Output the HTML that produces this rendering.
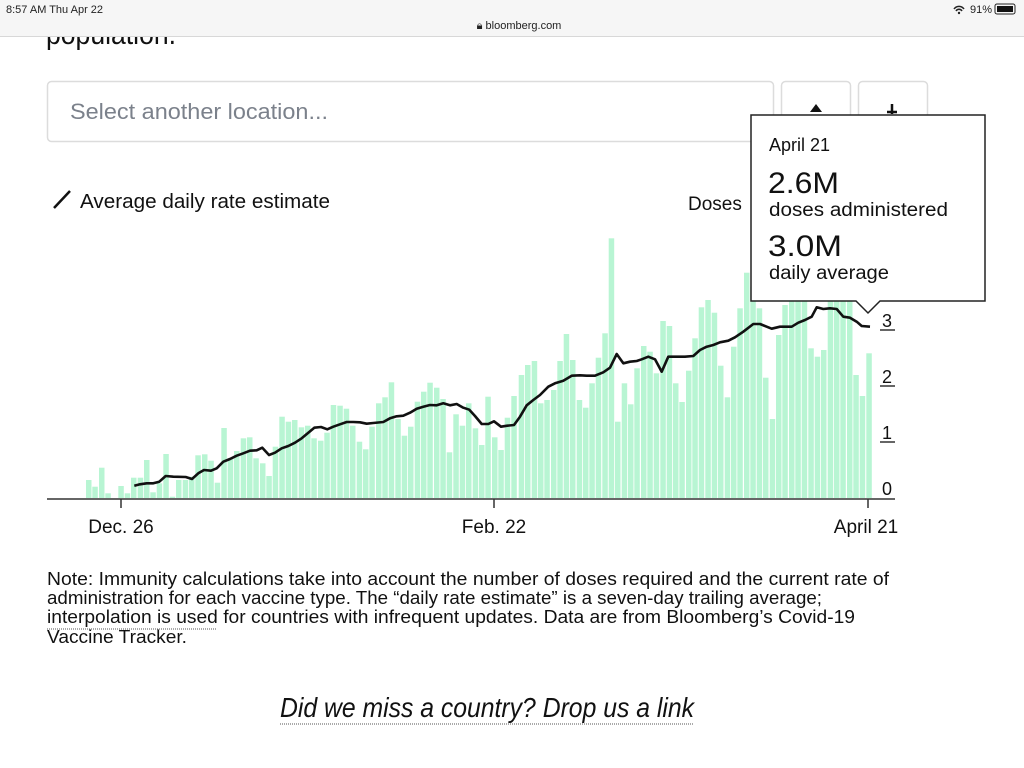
<!DOCTYPE html>
<html><head><meta charset="utf-8"><style>
html,body{margin:0;padding:0;background:#fff;width:1024px;height:768px;overflow:hidden}
svg{display:block}
text{font-family:"Liberation Sans",sans-serif}
</style></head><body>
<svg id="s" width="1024" height="768" viewBox="0 0 1024 768" xmlns="http://www.w3.org/2000/svg">
<text x="46" y="44" font-size="30" fill="#111" textLength="130" lengthAdjust="spacingAndGlyphs">population.</text>
<rect x="0" y="0" width="1024" height="36" fill="#f6f6f6"/>
<line x1="0" y1="36.5" x2="1024" y2="36.5" stroke="#d8d8d8"/>
<text x="6" y="13" font-size="11" fill="#222">8:57 AM   Thu Apr 22</text>
<text x="519" y="29" font-size="11" fill="#222" text-anchor="middle">🔒︎ bloomberg.com</text>
<text x="970" y="13" font-size="11" fill="#222">91%</text>
<rect x="995" y="4" width="20" height="10" rx="2" fill="none" stroke="#222"/>
<rect x="997" y="6" width="16" height="6" fill="#111"/>
<path d="M954 9 a6 6 0 0 1 10 0 M956 11 a3.5 3.5 0 0 1 6 0" stroke="#222" fill="none" stroke-width="1.5"/><circle cx="959" cy="13" r="1.2" fill="#222"/>

<rect x="47.5" y="81.5" width="726" height="60" rx="4" fill="#fff" stroke="#dcdcdc" stroke-width="1.5"/>
<text x="70" y="119" font-size="22" fill="#7b818b" textLength="258" lengthAdjust="spacingAndGlyphs">Select another location...</text>
<rect x="781.5" y="81.5" width="69" height="60" rx="4" fill="#fff" stroke="#dcdcdc" stroke-width="1.5"/>
<rect x="858.5" y="81.5" width="69" height="60" rx="4" fill="#fff" stroke="#dcdcdc" stroke-width="1.5"/>
<path d="M810 112 l6 -8 l6 8 z" fill="#111"/>
<path d="M892 104 v10 M887 112 h10" stroke="#111" stroke-width="2.5"/>

<line x1="54" y1="208" x2="70" y2="191" stroke="#111" stroke-width="2.5"/>
<text x="80" y="208" font-size="20" fill="#111" textLength="250" lengthAdjust="spacingAndGlyphs">Average daily rate estimate</text>
<text x="688" y="210" font-size="19" fill="#111">Doses</text>

<g id="bars" fill="#b8f5d3"></g>
<polyline id="ln" fill="none" stroke="#111" stroke-width="2.6" stroke-linejoin="round"/>

<line x1="47" y1="499" x2="895" y2="499" stroke="#333" stroke-width="1.5"/>
<line x1="121" y1="499" x2="121" y2="508" stroke="#333" stroke-width="1.5"/>
<line x1="494" y1="499" x2="494" y2="508" stroke="#333" stroke-width="1.5"/>
<line x1="868" y1="499" x2="868" y2="508" stroke="#333" stroke-width="1.5"/>
<text x="121" y="533" font-size="19" fill="#111" text-anchor="middle">Dec. 26</text>
<text x="494" y="533" font-size="19" fill="#111" text-anchor="middle">Feb. 22</text>
<text x="866" y="533" font-size="19" fill="#111" text-anchor="middle">April 21</text>
<g font-size="18" fill="#111" text-anchor="middle">
<text x="887" y="495">0</text>
<text x="887" y="439">1</text><line x1="880" y1="442" x2="895" y2="442" stroke="#333" stroke-width="1.5"/>
<text x="887" y="383">2</text><line x1="880" y1="386" x2="895" y2="386" stroke="#333" stroke-width="1.5"/>
<text x="887" y="327">3</text><line x1="880" y1="330" x2="895" y2="330" stroke="#333" stroke-width="1.5"/>
</g>

<path d="M751 115 H985 V301 H880 L868 313 L856 301 H751 Z" fill="#fff" stroke="#222" stroke-width="1.5"/>
<text x="769" y="151" font-size="18" fill="#111">April 21</text>
<text x="768" y="193" font-size="30" fill="#111" textLength="71" lengthAdjust="spacingAndGlyphs">2.6M</text>
<text x="769" y="216" font-size="19" fill="#111" textLength="179" lengthAdjust="spacingAndGlyphs">doses administered</text>
<text x="768" y="256" font-size="30" fill="#111" textLength="74" lengthAdjust="spacingAndGlyphs">3.0M</text>
<text x="769" y="279" font-size="19" fill="#111" textLength="120" lengthAdjust="spacingAndGlyphs">daily average</text>

<g font-size="18" fill="#111">
<text x="47" y="585" textLength="842" lengthAdjust="spacingAndGlyphs">Note: Immunity calculations take into account the number of doses required and the current rate of</text>
<text x="47" y="604" textLength="775" lengthAdjust="spacingAndGlyphs">administration for each vaccine type. The “daily rate estimate” is a seven-day trailing average;</text>
<text x="47" y="623" textLength="808" lengthAdjust="spacingAndGlyphs">interpolation is used for countries with infrequent updates. Data are from Bloomberg’s Covid-19</text>
<text x="47" y="643" textLength="140" lengthAdjust="spacingAndGlyphs">Vaccine Tracker.</text>
</g>
<line x1="47" y1="629" x2="216" y2="629" stroke="#555" stroke-dasharray="1 1"/>
<text x="280" y="717" font-size="28" font-style="italic" fill="#111" font-family="Liberation Serif, serif" textLength="414" lengthAdjust="spacingAndGlyphs">Did we miss a country? Drop us a link</text>
<line x1="280" y1="724" x2="694" y2="724" stroke="#555" stroke-dasharray="1 1"/>
</svg>
<script>
var b1=[[138,780],[157,800],[177,743],[196,820],[235,798],[254,820],[273,773],[293,773],[312,720],[331,817],[350,790],[370,702],[389,830],[408,780],[428,780],[447,770],[466,706],[486,703],[505,722],[524,788],[544,624],[563,715],[582,693],[602,655],[621,652],[640,715],[660,730],[679,768],[698,680],[718,590],[737,605],[756,600],[776,622],[795,617],[814,655],[834,662],[853,638],[872,555],[892,557],[911,566],[930,617],[950,665],[969,688],[988,620],[1008,550],[1027,532],[1046,487],[1066,597],[1085,647],[1104,620],[1124,545],[1143,515],[1162,488],[1182,503],[1201,537],[1220,697],[1240,583],[1259,617],[1278,550],[1298,625],[1317,675],[1336,530],[1356,652],[1375,690],[1394,593],[1414,528]];
var b2=[[116,465],[135,435],[155,423],[174,550],[193,540],[213,510],[232,423],[251,342],[270,420],[290,540],[309,563],[328,490],[347,413],[367,340],[386,55],[405,605],[425,490],[444,553],[463,445],[483,378],[502,395],[521,460],[541,303],[560,318],[579,490],[598,546],[618,452],[637,355],[656,262],[676,240],[695,278],[714,437],[734,532],[753,380],[772,265],[792,158],[811,200],[830,265],[849,473],[869,597],[888,345],[907,255],[927,230],[946,230],[965,230],[985,385],[1004,410],[1023,390],[1043,240],[1062,230],[1081,230],[1101,230],[1120,465],[1139,528],[1159,400]];
var h='';
b1.forEach(function(p){var x=40+p[0]/3,y=220+p[1]/3;h+='<rect x="'+x.toFixed(1)+'" y="'+y.toFixed(1)+'" width="5.5" height="'+(498-y).toFixed(1)+'"/>';});
b2.forEach(function(p){var x=480+p[0]/3,y=220+p[1]/3;h+='<rect x="'+x.toFixed(1)+'" y="'+y.toFixed(1)+'" width="5.5" height="'+(498-y).toFixed(1)+'"/>';});
document.getElementById('bars').innerHTML=h;
var l1=[[283,797],[300,793],[320,790],[340,790],[358,785],[377,768],[400,770],[437,771],[456,777],[475,760],[492,750],[513,752],[530,745],[550,725],[570,717],[590,707],[610,700],[630,692],[650,691],[667,683],[687,705],[705,698],[725,685],[745,678],[765,668],[785,655],[803,640],[823,623],[843,621],[862,628],[880,620],[900,613],[920,606],[940,606],[960,607],[980,611],[1000,609],[1030,606],[1050,595],[1070,589],[1090,587],[1110,578],[1130,566],[1150,560],[1170,555],[1190,556],[1210,550],[1230,556],[1250,552],[1270,563],[1288,569],[1305,588],[1325,612],[1345,612],[1362,604],[1383,620],[1402,617],[1422,615]];
var l2=[[120,590],[140,556],[160,540],[180,525],[205,500],[225,490],[250,482],[275,467],[300,466],[320,467],[345,467],[370,457],[390,443],[410,402],[430,430],[450,425],[470,423],[485,418],[505,410],[525,418],[545,455],[565,410],[590,410],[615,410],[640,408],[660,390],[680,380],[700,375],[720,367],[745,362],[765,352],[790,335],[820,312],[840,312],[860,320],[875,326],[900,320],[935,320],[955,308],[975,300],[995,290],[1010,262],[1030,267],[1050,265],[1070,267],[1090,290],[1110,293],[1130,305],[1145,318],[1170,320]];
var pts=l1.map(function(p){return (40+p[0]/3).toFixed(1)+','+(220+p[1]/3).toFixed(1)}).concat(l2.map(function(p){return (480+p[0]/3).toFixed(1)+','+(220+p[1]/3).toFixed(1)}));
document.getElementById('ln').setAttribute('points',pts.join(' '));
</script>
</body></html>
